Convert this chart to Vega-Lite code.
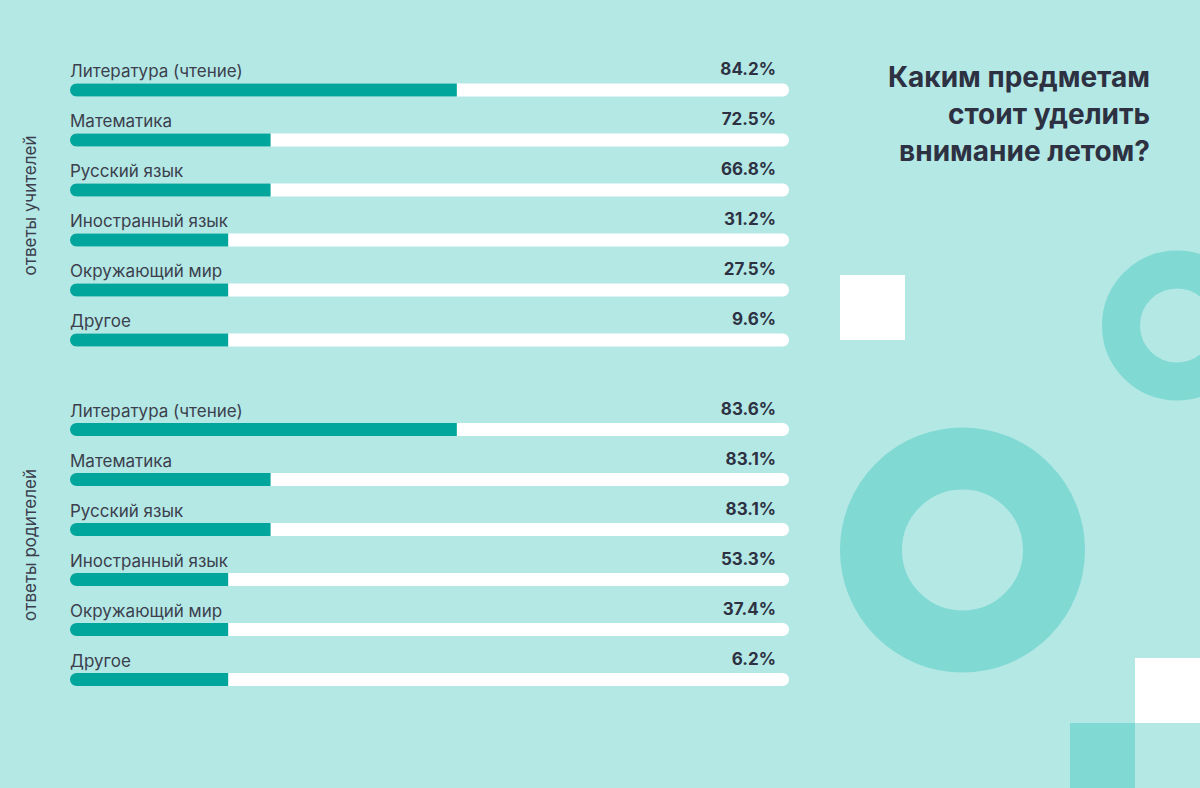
{
  "$schema": "https://vega.github.io/schema/vega-lite/v6.json",
  "width": 1200,
  "height": 788,
  "padding": 0,
  "autosize": {"type": "none"},
  "background": "#b3e8e5",
  "config": {"view": {"stroke": null}, "font": "Inter"},
  "title": {
    "text": ["Каким предметам", "стоит уделить", "внимание летом?"],
    "anchor": "end",
    "frame": "group",
    "orient": "top",
    "align": "right",
    "baseline": "top",
    "fontSize": 28,
    "fontWeight": "bold",
    "font": "Inter",
    "color": "#2d3142",
    "lineHeight": 37,
    "offset": 0,
    "dx": -50,
    "dy": 167
  },
  "datasets": {
    "bars": [
      {"group": "ответы учителей", "item": "Литература (чтение)", "share": 0.842, "fill": 0.538, "total": 1},
      {"group": "ответы учителей", "item": "Математика", "share": 0.725, "fill": 0.279, "total": 1},
      {"group": "ответы учителей", "item": "Русский язык", "share": 0.668, "fill": 0.279, "total": 1},
      {"group": "ответы учителей", "item": "Иностранный язык", "share": 0.312, "fill": 0.22, "total": 1},
      {"group": "ответы учителей", "item": "Окружающий мир", "share": 0.275, "fill": 0.22, "total": 1},
      {"group": "ответы учителей", "item": "Другое", "share": 0.096, "fill": 0.22, "total": 1},
      {"group": "ответы родителей", "item": "Литература (чтение)", "share": 0.836, "fill": 0.538, "total": 1},
      {"group": "ответы родителей", "item": "Математика", "share": 0.831, "fill": 0.279, "total": 1},
      {"group": "ответы родителей", "item": "Русский язык", "share": 0.831, "fill": 0.279, "total": 1},
      {"group": "ответы родителей", "item": "Иностранный язык", "share": 0.533, "fill": 0.22, "total": 1},
      {"group": "ответы родителей", "item": "Окружающий мир", "share": 0.374, "fill": 0.22, "total": 1},
      {"group": "ответы родителей", "item": "Другое", "share": 0.062, "fill": 0.22, "total": 1}
    ],
    "deco": [
      {"shape": "white-square", "x": 840, "x2": 905, "y": 275, "y2": 340},
      {"shape": "white-square", "x": 1135, "x2": 1200, "y": 658, "y2": 723},
      {"shape": "teal-square", "x": 1070, "x2": 1135, "y": 723, "y2": 788},
      {"shape": "big-donut", "x": 962.5, "y": 550},
      {"shape": "small-donut", "x": 1177, "y": 325.5}
    ]
  },
  "layer": [
    {
      "data": {"name": "deco"},
      "layer": [
        {
          "transform": [{"filter": "datum.shape === 'white-square'"}],
          "mark": {"type": "rect", "color": "#ffffff"},
          "encoding": {
            "x": {"field": "x", "type": "quantitative", "scale": {"domain": [0, 1200], "nice": false, "zero": false}, "axis": null},
            "x2": {"field": "x2"},
            "y": {"field": "y", "type": "quantitative", "scale": {"domain": [0, 788], "reverse": true, "nice": false, "zero": false}, "axis": null},
            "y2": {"field": "y2"}
          }
        },
        {
          "transform": [{"filter": "datum.shape === 'teal-square'"}],
          "mark": {"type": "rect", "color": "#80d9d3"},
          "encoding": {
            "x": {"field": "x", "type": "quantitative", "axis": null},
            "x2": {"field": "x2"},
            "y": {"field": "y", "type": "quantitative", "axis": null},
            "y2": {"field": "y2"}
          }
        },
        {
          "transform": [{"filter": "datum.shape === 'big-donut'"}],
          "mark": {"type": "point", "shape": "circle", "filled": false, "stroke": "#80d9d3", "strokeWidth": 62, "size": 33489, "opacity": 1, "strokeOpacity": 1},
          "encoding": {
            "x": {"field": "x", "type": "quantitative", "axis": null},
            "y": {"field": "y", "type": "quantitative", "axis": null}
          }
        },
        {
          "transform": [{"filter": "datum.shape === 'small-donut'"}],
          "mark": {"type": "point", "shape": "circle", "filled": false, "stroke": "#80d9d3", "strokeWidth": 38, "size": 12544, "opacity": 1, "strokeOpacity": 1},
          "encoding": {
            "x": {"field": "x", "type": "quantitative", "axis": null},
            "y": {"field": "y", "type": "quantitative", "axis": null}
          }
        }
      ]
    },
    {
      "data": {"name": "bars"},
      "transform": [{"filter": "datum.group === 'ответы учителей'"}],
      "layer": [
        {
          "mark": {"type": "bar", "color": "#ffffff", "height": 13, "yOffset": 10, "cornerRadius": 6.5},
          "encoding": {
            "y": {
              "field": "item", "type": "nominal", "sort": null,
              "scale": {"range": [55, 355], "paddingInner": 0, "paddingOuter": 0},
              "axis": {"orient": "left", "title": "ответы учителей", "labels": false, "ticks": false, "domain": false, "grid": false, "offset": -35, "titlePadding": 0, "titleFontSize": 17, "titleFontWeight": "normal", "titleColor": "#3c3f4d", "titleFont": "Inter", "titleBaseline": "alphabetic"}
            },
            "x": {"field": "total", "type": "quantitative", "stack": null, "scale": {"domain": [0, 1], "range": [70, 789], "nice": false}, "axis": null}
          }
        },
        {
          "mark": {"type": "bar", "color": "#00a69c", "height": 13, "yOffset": 10, "cornerRadiusTopLeft": 6.5, "cornerRadiusBottomLeft": 6.5},
          "encoding": {
            "y": {"field": "item", "type": "nominal", "sort": null},
            "x": {"field": "fill", "type": "quantitative", "stack": null}
          }
        },
        {
          "mark": {"type": "text", "align": "left", "baseline": "alphabetic", "dy": -3, "fontSize": 17, "color": "#3c3f4d", "font": "Inter"},
          "encoding": {
            "y": {"field": "item", "type": "nominal", "sort": null},
            "x": {"datum": 0, "type": "quantitative"},
            "text": {"field": "item", "type": "nominal"}
          }
        },
        {
          "mark": {"type": "text", "align": "right", "baseline": "alphabetic", "dy": -5, "dx": -13, "fontSize": 17, "fontWeight": "bold", "color": "#2d3142", "font": "Inter"},
          "encoding": {
            "y": {"field": "item", "type": "nominal", "sort": null},
            "x": {"field": "total", "type": "quantitative"},
            "text": {"field": "share", "type": "quantitative", "format": ".1%"}
          }
        }
      ]
    },
    {
      "data": {"name": "bars"},
      "transform": [{"filter": "datum.group === 'ответы родителей'"}],
      "layer": [
        {
          "mark": {"type": "bar", "color": "#ffffff", "height": 13, "yOffset": 10, "cornerRadius": 6.5},
          "encoding": {
            "y": {
              "field": "item", "type": "nominal", "sort": null,
              "scale": {"range": [394.5, 694.5], "paddingInner": 0, "paddingOuter": 0},
              "axis": {"orient": "left", "title": "ответы родителей", "labels": false, "ticks": false, "domain": false, "grid": false, "offset": -35, "titlePadding": 0, "titleFontSize": 17, "titleFontWeight": "normal", "titleColor": "#3c3f4d", "titleFont": "Inter", "titleBaseline": "alphabetic"}
            },
            "x": {"field": "total", "type": "quantitative", "stack": null, "scale": {"domain": [0, 1], "range": [70, 789], "nice": false}, "axis": null}
          }
        },
        {
          "mark": {"type": "bar", "color": "#00a69c", "height": 13, "yOffset": 10, "cornerRadiusTopLeft": 6.5, "cornerRadiusBottomLeft": 6.5},
          "encoding": {
            "y": {"field": "item", "type": "nominal", "sort": null},
            "x": {"field": "fill", "type": "quantitative", "stack": null}
          }
        },
        {
          "mark": {"type": "text", "align": "left", "baseline": "alphabetic", "dy": -3, "fontSize": 17, "color": "#3c3f4d", "font": "Inter"},
          "encoding": {
            "y": {"field": "item", "type": "nominal", "sort": null},
            "x": {"datum": 0, "type": "quantitative"},
            "text": {"field": "item", "type": "nominal"}
          }
        },
        {
          "mark": {"type": "text", "align": "right", "baseline": "alphabetic", "dy": -5, "dx": -13, "fontSize": 17, "fontWeight": "bold", "color": "#2d3142", "font": "Inter"},
          "encoding": {
            "y": {"field": "item", "type": "nominal", "sort": null},
            "x": {"field": "total", "type": "quantitative"},
            "text": {"field": "share", "type": "quantitative", "format": ".1%"}
          }
        }
      ]
    }
  ],
  "resolve": {
    "scale": {"x": "independent", "y": "independent"}
  }
}
